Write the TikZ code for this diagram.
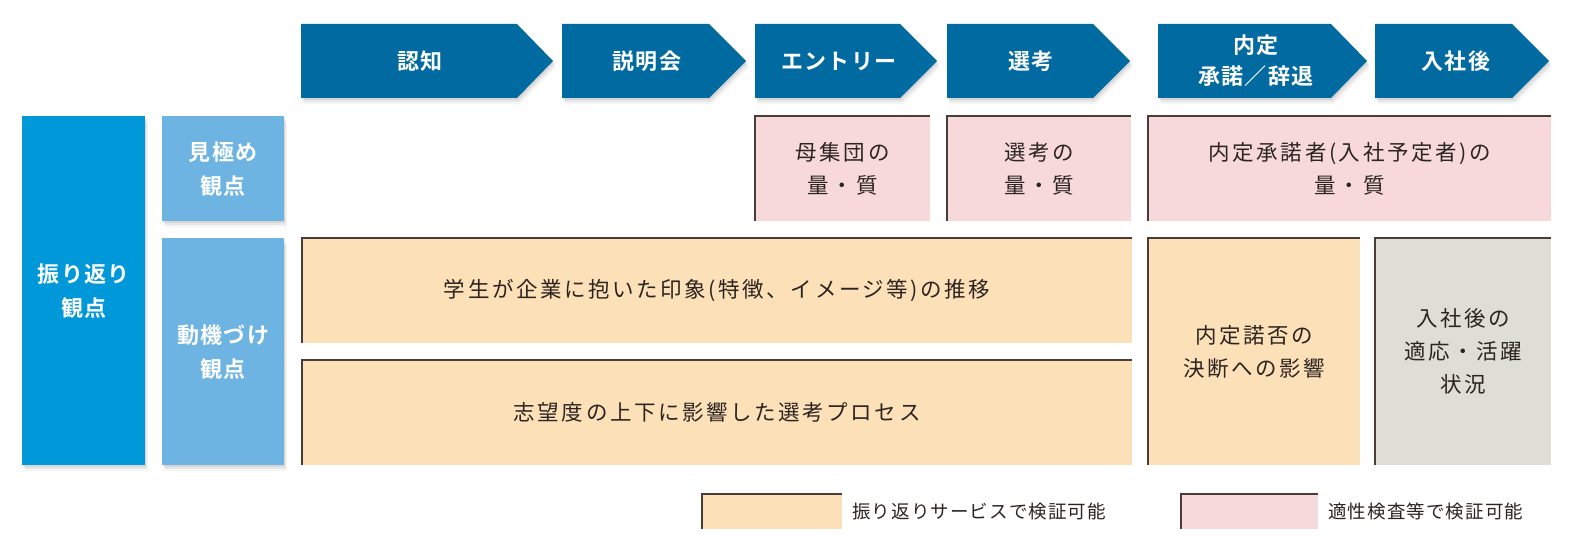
\documentclass[tikz,border=0pt]{standalone}
\usepackage{fontspec}
\setmainfont{Noto Sans CJK JP}[BoldFont={Noto Sans CJK JP Bold}]
\usetikzlibrary{shadows}
\definecolor{arrowblue}{HTML}{006AA1}
\definecolor{bigblue}{HTML}{0098D9}
\definecolor{lightblue}{HTML}{6EB4E2}
\definecolor{pinkc}{HTML}{F7D9DC}
\definecolor{orangec}{HTML}{FCE0B8}
\definecolor{grayc}{HTML}{DEDED7}
\definecolor{txt}{HTML}{2B2421}
\definecolor{edgec}{HTML}{4A3C38}
\tikzset{
  softshadow/.style={
    drop shadow={shadow xshift=1pt, shadow yshift=-2pt, opacity=0.07, fill=black},
    drop shadow={shadow xshift=2pt, shadow yshift=-4pt, opacity=0.06, fill=black},
    drop shadow={shadow xshift=3pt, shadow yshift=-6pt, opacity=0.04, fill=black}},
  arrowtext/.style={text=white, align=center, inner sep=0pt,
    font=\bfseries\fontsize{22}{31}\selectfont\addfontfeatures{LetterSpace=6}},
  sidebox/.style={rectangle, inner sep=0pt, anchor=north west, align=center, text=white,
    font=\bfseries\fontsize{22}{34}\selectfont\addfontfeatures{LetterSpace=6}, softshadow},
  cell/.style={rectangle, inner sep=0pt, anchor=north west, align=center, text=txt,
    font=\fontsize{21.5}{33}\selectfont\addfontfeatures{LetterSpace=12}},
  legtext/.style={anchor=west, inner sep=0pt, text=txt,
    font=\fontsize{18.5}{22}\selectfont\addfontfeatures{LetterSpace=6}},
  edge/.style={draw=edgec, line width=1.2pt},
}
\begin{document}
\begin{tikzpicture}[x=1pt,y=-1pt]
\useasboundingbox (0,0) rectangle (1580,537);
% process arrows
\fill[arrowblue, softshadow] (301,24) -- (517,24) -- (553,61) -- (517,98) -- (301,98) -- cycle;
\fill[arrowblue, softshadow] (562,24) -- (709,24) -- (746,61) -- (709,98) -- (562,98) -- cycle;
\fill[arrowblue, softshadow] (755,24) -- (900,24) -- (937,61) -- (900,98) -- (755,98) -- cycle;
\fill[arrowblue, softshadow] (947,24) -- (1093,24) -- (1130,61) -- (1093,98) -- (947,98) -- cycle;
\fill[arrowblue, softshadow] (1158,24) -- (1331,24) -- (1367,61) -- (1331,98) -- (1158,98) -- cycle;
\fill[arrowblue, softshadow] (1375,24) -- (1512,24) -- (1549,61) -- (1512,98) -- (1375,98) -- cycle;
\node[arrowtext] (a1) at (420,61) {認知};
\node[arrowtext] (a2) at (647,61) {説明会};
\node[arrowtext] (a3) at (839,61) {エントリー};
\node[arrowtext] (a4) at (1031,61) {選考};
\node[arrowtext] (a5) at (1256,61) {内定\\承諾／辞退};
\node[arrowtext] (a6) at (1456,61) {入社後};
% side labels
\node[sidebox, fill=bigblue, minimum width=123pt, minimum height=349pt] (furi) at (22,116) {振り返り\\観点};
\node[sidebox, fill=lightblue, minimum width=122pt, minimum height=105pt] (mikiwame) at (162,116) {見極め\\観点};
\node[sidebox, fill=lightblue, minimum width=122pt, minimum height=227pt] (doki) at (162,238) {動機づけ\\観点};
% row 1 pink cells
\node[cell, fill=pinkc, minimum width=175pt, minimum height=105pt] (p1) at (755,116) {母集団の\\量・質};
\node[cell, fill=pinkc, minimum width=184pt, minimum height=105pt] (p2) at (947,116) {選考の\\量・質};
\node[cell, fill=pinkc, minimum width=403pt, minimum height=105pt] (p3) at (1148,116) {内定承諾者(入社予定者)の\\量・質};
% row 2
\node[cell, fill=orangec, minimum width=830pt, minimum height=105pt] (o1) at (302,238) {学生が企業に抱いた印象(特徴、イメージ等)の推移};
\node[cell, fill=orangec, minimum width=830pt, minimum height=105pt] (o2) at (302,360) {志望度の上下に影響した選考プロセス};
\node[cell, fill=orangec, minimum width=212pt, minimum height=227pt] (o3) at (1148,238) {内定諾否の\\決断への影響};
\node[cell, fill=grayc, minimum width=176pt, minimum height=227pt] (g1) at (1375,238) {入社後の\\適応・活躍\\状況};
% legend
\node[cell, fill=orangec, minimum width=140pt, minimum height=35pt] (lo) at (702,494) {};
\node[legtext] (lot) at (852,511.5) {振り返りサービスで検証可能};
\node[cell, fill=pinkc, minimum width=137pt, minimum height=35pt] (lp) at (1181,494) {};
\node[legtext] (lpt) at (1328,511.5) {適性検査等で検証可能};
% top-left edge lines
\foreach \n in {p1,p2,p3,o1,o2,o3,g1,lo,lp}{
  \draw[edge] (\n.south west) -- (\n.north west) -- (\n.north east);
}
\end{tikzpicture}
\end{document}
